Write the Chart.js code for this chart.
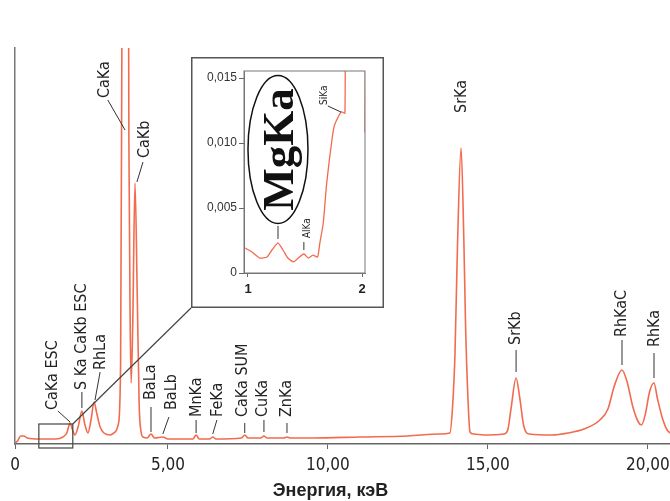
<!DOCTYPE html>
<html>
<head>
<meta charset="utf-8">
<script src="https://cdn.jsdelivr.net/npm/chart.js@4.4.1/dist/chart.umd.min.js"></script>
<style>
  html, body { margin: 0; padding: 0; background: #fff; }
  #wrap { position: relative; width: 670px; height: 501px; }
  #main { position: absolute; left: 0; top: 0; width: 670px; height: 501px; }
  #inset { position: absolute; left: 191px; top: 57px; width: 193px; height: 251px; }
</style>
</head>
<body>
<div id="wrap">
  <canvas id="main" width="670" height="501"></canvas>
  <canvas id="inset" width="193" height="251"></canvas>
</div>
<script>
// spectrum, energy in keV, intensity in arbitrary units
const energy = [0.22, 0.30, 0.40, 0.50, 0.60, 1.00, 1.50, 1.72, 1.84, 1.94, 2.02, 2.09, 2.20, 2.31, 2.40, 2.50,
  2.60, 2.69, 2.78, 2.88, 3.00, 3.19, 3.35, 3.45, 3.52, 3.56, 3.67, 3.78, 3.82, 3.85, 3.90, 3.97, 4.04, 4.10,
  4.16, 4.22, 4.35, 4.47, 4.58, 4.84, 5.00, 5.50, 5.78, 5.88, 5.98, 6.30, 6.40, 6.50, 7.30, 7.40, 7.50, 7.90,
  8.00, 8.10, 8.62, 8.72, 8.82, 9.50, 11.0, 12.5, 13.5, 13.81, 13.90, 13.97, 14.05, 14.16, 14.25, 14.30, 14.37,
  14.44, 14.55, 15.00, 15.50, 15.62, 15.72, 15.88, 16.00, 16.12, 16.30, 17.00, 17.50, 18.00, 18.50, 18.75,
  18.95, 19.19, 19.35, 19.53, 19.70, 19.80, 19.92, 20.05, 20.19, 20.30, 20.47, 20.60, 20.75];
const counts = [1, 3, 8, 8, 6, 5, 5, 7, 11, 21, 14, 9, 18, 33, 20, 11,
  25, 42, 30, 17, 11, 9, 12, 20, 80, 400, 1500, 300, 120, 61, 120, 261, 150, 40,
  12, 7, 6, 10, 6, 7, 5, 5, 5, 9, 5, 5, 7, 5, 6, 9, 6, 6,
  8, 6, 6, 7, 6, 6, 7, 8, 10, 11, 40, 90, 200, 296, 200, 120, 50,
  12, 10, 9, 10, 14, 35, 66, 45, 18, 10, 9, 11, 15, 24, 35,
  58, 74, 62, 37, 22, 19, 30, 52, 61, 45, 24, 14, 10];
const xTicks = [0.22, 5, 10, 15, 20];

// peak labels: text anchor [E, value] and leader [E1, v1, E2, v2]
const peakNames = ['CaKa ESC', 'S Ka CaKb ESC', 'RhLa', 'CaKa', 'CaKb', 'BaLa', 'BaLb', 'MnKa', 'FeKa',
  'CaKa SUM', 'CuKa', 'ZnKa', 'SrKa', 'SrKb', 'RhKaC', 'RhKa'];
const peakTextAt = [[1.41, 34], [2.31, 54], [2.91, 74], [3.03, 346], [4.28, 286], [4.47, 44], [5.13, 34],
  [5.90, 27], [6.56, 27], [7.34, 27], [7.97, 27], [8.72, 27], [14.19, 331], [15.88, 99], [19.19, 107], [20.22, 97]];
const peakLeaders = [[1.56, 33, 1.94, 22], [2.31, 52, 2.31, 36], [2.88, 72, 2.72, 44], [3.12, 344, 3.66, 314],
  [4.22, 282, 4.03, 262], [4.47, 37, 4.47, 12], [5.03, 27, 4.84, 10], [5.88, 24, 5.88, 11], [6.53, 24, 6.40, 10],
  [7.40, 21, 7.40, 11], [8.00, 24, 8.00, 12], [8.72, 21, 8.72, 11], null, [15.88, 94, 15.88, 72],
  [19.19, 104, 19.19, 79], [20.19, 91, 20.19, 66]];

// inset, 1-2 keV
const insetEnergy = [0.974, 1.035, 1.105, 1.167, 1.21, 1.263, 1.307, 1.35, 1.40, 1.44, 1.49, 1.53, 1.57,
  1.61, 1.63, 1.66, 1.69, 1.74, 1.76, 1.80, 1.82, 1.85, 1.87, 2.02, 2.026, 2.04];
const insetCounts = [0.00192, 0.00162, 0.00115, 0.00123, 0.00177, 0.0023, 0.00177, 0.00115, 0.00085, 0.00115,
  0.00146, 0.00115, 0.00138, 0.00123, 0.0023, 0.00385, 0.0069, 0.0105, 0.0114, 0.01215, 0.0124, 0.0123,
  0.03, 0.03, 0.0108, 0.006];
const insetXRange = [0.965, 2.026];
const insetXTicks = [1, 2];
const insetYTicks = [0, 0.005, 0.010, 0.015];
const insetNames = ['AlKa', 'SiKa'];
const insetTextAt = [[1.518, 0.00269], [1.667, 0.01292]];
const insetLeaders = [[1.49, 0.00238, 1.49, 0.00177], [1.70, 0.01285, 1.816, 0.01238]];
const mgLeader = [1.263, 0.00362, 1.263, 0.00262];
const mgCenter = [1.263, 0.0095];

const lineColor = '#f26b4f';
const narrow = "'Liberation Sans Narrow', 'DejaVu Sans Condensed', sans-serif";

function drawVertText(ctx, text, x, y) {
  ctx.save();
  ctx.translate(x, y);
  ctx.rotate(-Math.PI / 2);
  ctx.textAlign = 'left';
  ctx.textBaseline = 'middle';
  ctx.fillText(text, 0, 0);
  ctx.restore();
}

function drawLeader(ctx, sx, sy, l) {
  ctx.beginPath();
  ctx.moveTo(sx.getPixelForValue(l[0]), sy.getPixelForValue(l[1]));
  ctx.lineTo(sx.getPixelForValue(l[2]), sy.getPixelForValue(l[3]));
  ctx.stroke();
}

const mainLabels = {
  id: 'mainLabels',
  afterDraw(chart) {
    const { ctx, scales: { x, y }, chartArea } = chart;
    ctx.save();
    ctx.strokeStyle = '#333';
    ctx.lineWidth = 1;
    ctx.fillStyle = '#222';
    ctx.font = '16px ' + narrow;
    peakNames.forEach((name, i) => {
      if (peakLeaders[i]) drawLeader(ctx, x, y, peakLeaders[i]);
      drawVertText(ctx, name, x.getPixelForValue(peakTextAt[i][0]), y.getPixelForValue(peakTextAt[i][1]));
    });

    // zoom box and connector to the inset
    const inset = document.getElementById('inset');
    const bx1 = x.getPixelForValue(insetXRange[0]);
    const bx2 = x.getPixelForValue(insetXRange[1]);
    const by1 = y.getPixelForValue(20);
    const by2 = y.getPixelForValue(-4);
    ctx.strokeStyle = '#444';
    ctx.lineWidth = 1.2;
    ctx.strokeRect(bx1, by1, bx2 - bx1, by2 - by1);
    ctx.beginPath();
    ctx.moveTo(bx2, by1);
    ctx.lineTo(inset.offsetLeft, inset.offsetTop + inset.offsetHeight);
    ctx.stroke();

    // axis title
    ctx.fillStyle = '#222';
    ctx.font = "bold 18px 'Liberation Sans', Arial, sans-serif";
    ctx.textAlign = 'center';
    ctx.textBaseline = 'middle';
    ctx.fillText('Энергия, кэВ', (chartArea.left + chartArea.right) / 2 - 12, 491);
    ctx.restore();
  }
};

new Chart(document.getElementById('main'), {
  type: 'line',
  data: {
    datasets: [{
      data: energy.map((e, i) => ({ x: e, y: counts[i] })),
      borderColor: lineColor,
      borderWidth: 1.6,
      pointRadius: 0,
      cubicInterpolationMode: 'monotone',
      fill: false
    }]
  },
  options: {
    responsive: false,
    animation: false,
    layout: { padding: { top: 48, right: 0, left: 0, bottom: 0 } },
    plugins: { legend: { display: false }, tooltip: { enabled: false } },
    scales: {
      x: {
        type: 'linear',
        min: 0.22,
        max: 20.69,
        afterBuildTicks: s => { s.ticks = xTicks.map(v => ({ value: v })); },
        afterFit: s => { s.height = 57; s.paddingLeft = 0; s.paddingRight = 0; },
        ticks: {
          autoSkip: false,
          maxRotation: 0,
          padding: 6,
          color: '#222',
          font: { family: narrow, size: 17 },
          callback: v => v < 1 ? '0' : v.toFixed(2).replace('.', ',')
        },
        grid: { display: true, drawOnChartArea: false, tickLength: 5, color: '#666' },
        border: { display: true, color: '#666', width: 1.5 }
      },
      y: {
        min: 0,
        max: 396,
        afterFit: s => { s.width = 15; s.paddingTop = 0; s.paddingBottom = 0; },
        ticks: { display: false },
        grid: { display: false },
        border: { display: true, color: '#777', width: 1.5 }
      }
    }
  },
  plugins: [mainLabels]
});

const insetDecor = {
  id: 'insetDecor',
  beforeDraw(chart) {
    const { ctx, width, height } = chart;
    ctx.save();
    ctx.fillStyle = '#fff';
    ctx.fillRect(0, 0, width, height);
    ctx.restore();
  },
  afterDraw(chart) {
    const { ctx, scales: { x, y }, chartArea, width, height } = chart;
    ctx.save();
    ctx.strokeStyle = '#777';
    ctx.lineWidth = 1;
    ctx.strokeRect(chartArea.left, chartArea.top, chartArea.right - chartArea.left, chartArea.bottom - chartArea.top);
    ctx.strokeStyle = '#555';
    ctx.lineWidth = 1.5;
    ctx.strokeRect(0.75, 0.75, width - 1.5, height - 1.5);

    ctx.strokeStyle = '#333';
    ctx.lineWidth = 1;
    ctx.fillStyle = '#222';
    ctx.font = '10px ' + narrow;
    insetNames.forEach((name, i) => {
      drawLeader(ctx, x, y, insetLeaders[i]);
      drawVertText(ctx, name, x.getPixelForValue(insetTextAt[i][0]), y.getPixelForValue(insetTextAt[i][1]));
    });
    drawLeader(ctx, x, y, mgLeader);

    // encircled MgKa
    const cx = x.getPixelForValue(mgCenter[0]);
    const cy = y.getPixelForValue(mgCenter[1]);
    ctx.strokeStyle = '#111';
    ctx.lineWidth = 1.5;
    ctx.beginPath();
    ctx.ellipse(cx, cy, 30, 74, 0, 0, Math.PI * 2);
    ctx.stroke();
    ctx.save();
    ctx.translate(cx + 15, cy);
    ctx.rotate(-Math.PI / 2);
    ctx.fillStyle = '#111';
    ctx.font = "bold 45px 'Liberation Serif', 'DejaVu Serif', serif";
    ctx.textAlign = 'center';
    ctx.textBaseline = 'alphabetic';
    ctx.fillText('MgKa', 0, 0);
    ctx.restore();
    ctx.restore();
  }
};

new Chart(document.getElementById('inset'), {
  type: 'line',
  data: {
    datasets: [{
      data: insetEnergy.map((e, i) => ({ x: e, y: insetCounts[i] })),
      borderColor: lineColor,
      borderWidth: 1.3,
      pointRadius: 0,
      tension: 0.2,
      fill: false
    }]
  },
  options: {
    responsive: false,
    animation: false,
    layout: { padding: { top: 14, right: 19, left: 0, bottom: 0 } },
    plugins: { legend: { display: false }, tooltip: { enabled: false } },
    scales: {
      x: {
        type: 'linear',
        min: insetXRange[0],
        max: insetXRange[1],
        afterBuildTicks: s => { s.ticks = insetXTicks.map(v => ({ value: v })); },
        afterFit: s => { s.height = 35; s.paddingLeft = 0; s.paddingRight = 0; },
        ticks: { padding: 5, color: '#222', font: { family: "'Liberation Sans', Arial, sans-serif", size: 13, weight: 'bold' } },
        grid: { display: true, drawOnChartArea: false, tickLength: 4, color: '#666' },
        border: { display: true, color: '#777', width: 1 }
      },
      y: {
        min: 0,
        max: 0.01554,
        afterBuildTicks: s => { s.ticks = insetYTicks.map(v => ({ value: v })); },
        afterFit: s => { s.width = 53; s.paddingTop = 0; s.paddingBottom = 0; },
        ticks: {
          padding: 2,
          color: '#333',
          font: { family: "'Liberation Sans', Arial, sans-serif", size: 12 },
          callback: v => v === 0 ? '0' : v.toFixed(3).replace('.', ',')
        },
        grid: { display: true, drawOnChartArea: false, tickLength: 5, color: '#666' },
        border: { display: true, color: '#777', width: 1 }
      }
    }
  },
  plugins: [insetDecor]
});
</script>
</body>
</html>
